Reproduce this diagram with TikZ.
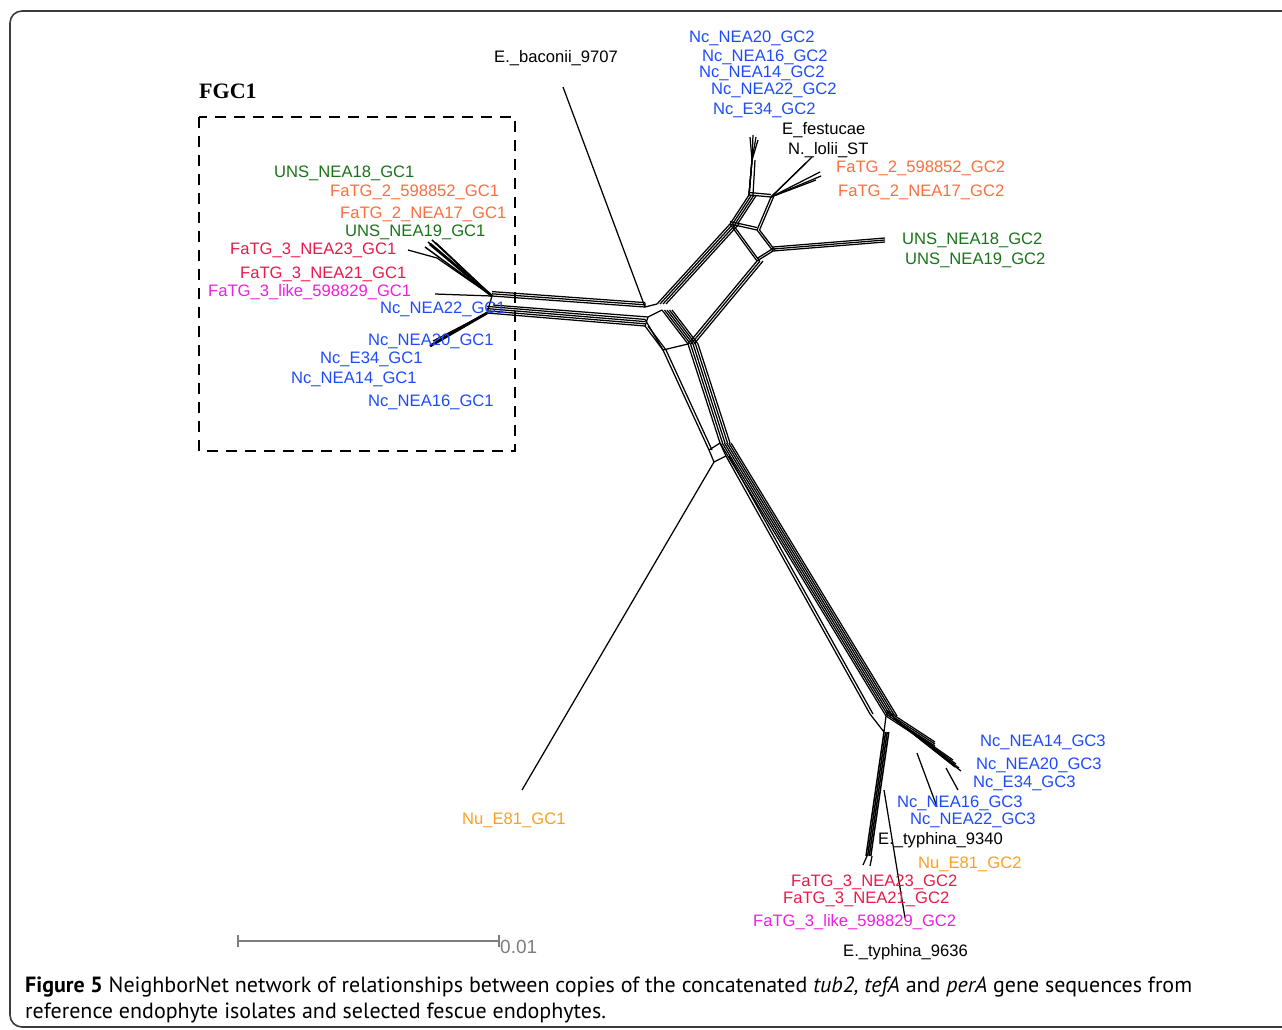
\documentclass[tikz,border=0pt]{standalone}
\usepackage{fontspec}
\setmainfont{Liberation Serif}
\newfontfamily\labfont{Liberation Sans}
\newfontfamily\capfont{PT Sans}
\usetikzlibrary{positioning}
\definecolor{ncblue}{RGB}{30,75,250}
\definecolor{unsgreen}{RGB}{25,115,25}
\definecolor{fatgtwo}{RGB}{250,110,65}
\definecolor{fatgthree}{RGB}{235,25,75}
\definecolor{fatglike}{RGB}{240,30,225}
\definecolor{nuorange}{RGB}{250,160,30}
\definecolor{scalegray}{RGB}{125,125,125}
\definecolor{framegray}{RGB}{60,60,60}
\tikzset{
  net/.style={line width=1.25pt},
  netthick/.style={line width=2.8pt},
  lab/.style={font=\labfont\fontsize{16.6}{18}\selectfont, inner sep=0pt, anchor=base west},
  nc/.style={lab, text=ncblue},
  uns/.style={lab, text=unsgreen},
  fatwo/.style={lab, text=fatgtwo},
  fathree/.style={lab, text=fatgthree},
  falike/.style={lab, text=fatglike},
  nu/.style={lab, text=nuorange},
  ref/.style={lab, text=black},
  boxdash/.style={line width=2.4pt, dash pattern=on 11pt off 8pt},
}
\begin{document}
\begin{tikzpicture}[x=1pt,y=-1pt]
\useasboundingbox (0,0) rectangle (1282,1029);
% outer frame
\draw[framegray, line width=1.6pt, rounded corners=12pt] (10,11) rectangle (1320,1027);

% FGC1 group
\node[font=\bfseries\fontsize{22}{24}\selectfont, inner sep=0pt, anchor=base west] (fgc) at (199,98) {FGC1};
\draw[boxdash] (199,117) rectangle (515,451);

% junction points of the network
\coordinate (L1) at (492,296);
\coordinate (L2) at (493,305);
\coordinate (L3) at (487,313);
\coordinate (H1) at (645,307);
\coordinate (H2) at (648,317);
\coordinate (H3) at (645,326);
\coordinate (H4) at (657,304);
\coordinate (H5) at (662,310);
\coordinate (H6) at (688,344);
\coordinate (H7) at (663,350);
\coordinate (Q1) at (730,224);
\coordinate (Q2) at (757,230);
\coordinate (Q3) at (773,251);
\coordinate (Q4) at (757,261);
\coordinate (S1) at (749,195);
\coordinate (S2) at (771,197);
\coordinate (D1) at (720,443);
\coordinate (D2) at (709,450);
\coordinate (D3) at (714,462);
\coordinate (D4) at (726,456);
\coordinate (G1) at (886,716);
\coordinate (G2) at (893,718);
\coordinate (G3) at (884,732);

% tips
\coordinate (baconii) at (563,87);
\coordinate (nuone) at (522,790);
\coordinate (typh) at (905,918);

% left cluster (GC1)
\foreach \a/\b in {425/247, 428/242, 432/240, 436/243}
  \draw[net, line width=1.5pt] (\a,\b) -- (L1);
\draw[netthick] (430,244) -- (L1);
\draw[net] (408,250) -- (437,258) -- (L1);
\draw[net] (435,294) -- (L1);
\draw[netthick] (430,346) -- (L3);
\draw[net] (433,341) -- (L3);
\draw[net] (L1) -- (L3);

% left bundles to the hub
\foreach \d in {0,2.2,4.4}
  \draw[net] ([yshift=\d pt]L1) -- ([yshift=\d pt]H1);
\draw[net] (L2) -- (H2);
\foreach \d in {0,2.2,4.4,6.6}
  \draw[net] ([yshift=\d pt]L3) -- ([yshift=\d pt]H3);
\draw[net] (baconii) -- (H1);

% hub
\draw[net] (H1) -- (H4) (H2) -- (H5) ([yshift=6.6pt]H3) -- (H7) -- (H6);
\draw[net] (H1) -- ([yshift=4.4pt]H1) (H3) -- (H2);

% towards the GC2 group
\foreach \d in {0,3,6,9}
  \draw[net] ([xshift=\d pt]H4) -- ([xshift=\d pt]Q1);
\foreach \d in {0,3,6}
  \draw[net] ([xshift=\d pt]H6) -- ([xshift=\d pt]Q4);
\foreach \d in {0,2.5}
  \draw[net] ([yshift=\d pt]Q1) -- ([yshift=\d pt]Q2)
             ([xshift=\d pt]Q2) -- ([xshift=\d pt]Q3)
             ([yshift=\d pt]Q4) -- ([yshift=\d pt]Q3)
             ([xshift=\d pt]Q1) -- ([xshift=\d pt]Q4);
\foreach \d in {0,2,4}
  \draw[net] ([yshift=\d pt]Q3) -- ([yshift=\d pt]885,242);
\foreach \d in {0,2.5,5,7.5}
  \draw[net] ([xshift=\d pt]Q1) -- ([xshift=\d pt]S1);
\foreach \d in {0,2.5}
  \draw[net] ([yshift=\d pt]S1) -- ([yshift=\d pt]S2)
             ([xshift=\d pt]S2) -- ([xshift=\d pt]Q2);
\foreach \a/\b in {750/137, 753/135, 756/137, 758/140}
  \draw[net] (S1) -- (752,160) -- (\a,\b);
\draw[net] ([xshift=4pt]S1) -- (755,160);
\foreach \a/\b in {812/157, 806/163, 820/172, 821/176, 816/180}
  \draw[net] (S2) -- (\a,\b);

% towards the GC3 group
\foreach \d in {0,2.5,5,7.5,10}
  \draw[net] ([xshift=\d pt]H5) -- ([xshift=\d pt]H6);
\foreach \d in {0,3}
  \draw[net] ([xshift=\d pt]H3) -- ([xshift=\d pt]H7) -- ([xshift=\d pt]D2);
\foreach \d in {0,2.5,5,7.5,10}
  \draw[net] ([xshift=\d pt]H6) -- ([xshift=\d pt]D1);
\draw[net] (D1) -- (D2) -- (D3) -- (D4) -- (D1);
\draw[net] (D3) -- (nuone);
\foreach \d in {0,2.2,4.4,6.6,8.8,11}
  \draw[net] ([xshift=\d pt]D1) -- ([xshift=\d pt]G1);
\foreach \d in {0,3}
  \draw[net] ([xshift=\d pt]D4) -- ([xshift=\d pt]870,714);
\draw[net] (870,714) -- (G3) (G1) -- (G3);

% GC3 end
\foreach \a/\b in {953/760, 956/764, 959/768, 961/771, 955/767}
  \draw[net] (G2) -- (\a,\b);
\foreach \d in {0,2,4,6}
  \draw[net] ([yshift=\d pt]G1) -- ([yshift=\d pt]935,748);
\draw[net] (917,753) -- (937,807);
\draw[net] (946,768) -- (958,790);
\foreach \d in {0,1.6,3.2,4.8}
  \draw[net, line width=1.5pt] ([xshift=\d pt]G3) -- ([xshift=\d pt]866,856);
\draw[net] (867,856) -- (863,865) (872,856) -- (870,866);
\draw[net] (884,790) -- (typh);

% labels, GC2
\node[nc] (ncNEAtwentyB) at (689,42) {Nc\_NEA20\_GC2};
\node[nc] (ncNEAsixteenB) at (702,61) {Nc\_NEA16\_GC2};
\node[nc] (ncNEAfourteenB) at (699,77) {Nc\_NEA14\_GC2};
\node[nc] (ncNEAtwentytwoB) at (711,94) {Nc\_NEA22\_GC2};
\node[nc] (ncEB) at (713,114) {Nc\_E34\_GC2};
\node[ref] (festucae) at (782,134) {E\_festucae};
\node[ref] (lolii) at (788,154) {N.\_lolii\_ST};
\node[fatwo] (faBfive) at (836,172) {FaTG\_2\_598852\_GC2};
\node[fatwo] (faBseventeen) at (838,196) {FaTG\_2\_NEA17\_GC2};
\node[uns] (unsEighteenB) at (902,244) {UNS\_NEA18\_GC2};
\node[uns] (unsNineteenB) at (905,264) {UNS\_NEA19\_GC2};
\node[ref] (baconiilab) at (494,62) {E.\_baconii\_9707};

% labels, GC1
\node[uns] (unsEighteenA) at (274,177) {UNS\_NEA18\_GC1};
\node[fatwo] (faAfive) at (330,196) {FaTG\_2\_598852\_GC1};
\node[fatwo] (faAseventeen) at (340,218) {FaTG\_2\_NEA17\_GC1};
\node[uns] (unsNineteenA) at (345,236) {UNS\_NEA19\_GC1};
\node[fathree] (faAtwentythree) at (230,254) {FaTG\_3\_NEA23\_GC1};
\node[fathree] (faAtwentyone) at (240,278) {FaTG\_3\_NEA21\_GC1};
\node[falike] (likeA) at (208,296) {FaTG\_3\_like\_598829\_GC1};
\node[nc] (ncNEAtwentytwoA) at (380,313) {Nc\_NEA22\_GC1};
\node[nc] (ncNEAtwentyA) at (368,345) {Nc\_NEA20\_GC1};
\node[nc] (ncEA) at (320,363) {Nc\_E34\_GC1};
\node[nc] (ncNEAfourteenA) at (291,383) {Nc\_NEA14\_GC1};
\node[nc] (ncNEAsixteenA) at (368,406) {Nc\_NEA16\_GC1};

% labels, GC3 and the rest
\node[nu] (nuA) at (462,824) {Nu\_E81\_GC1};
\node[nc] (ncNEAfourteenC) at (980,746) {Nc\_NEA14\_GC3};
\node[nc] (ncNEAtwentyC) at (976,769) {Nc\_NEA20\_GC3};
\node[nc] (ncEC) at (973,787) {Nc\_E34\_GC3};
\node[nc] (ncNEAsixteenC) at (897,807) {Nc\_NEA16\_GC3};
\node[nc] (ncNEAtwentytwoC) at (910,824) {Nc\_NEA22\_GC3};
\node[ref] (typhA) at (878,844) {E.\_typhina\_9340};
\node[nu] (nuB) at (918,868) {Nu\_E81\_GC2};
\node[fathree] (faCtwentythree) at (791,886) {FaTG\_3\_NEA23\_GC2};
\node[fathree] (faCtwentyone) at (783,903) {FaTG\_3\_NEA21\_GC2};
\node[falike] (likeB) at (753,926) {FaTG\_3\_like\_598829\_GC2};
\node[ref] (typhB) at (843,956) {E.\_typhina\_9636};

% scale bar
\coordinate (sbl) at (238,941);
\coordinate (sbr) at (499,941);
\draw[scalegray, line width=1.6pt] (sbl) -- (sbr);
\draw[scalegray, line width=1.6pt] ([yshift=-6pt]sbl) -- ([yshift=6pt]sbl)
  ([yshift=-6pt]sbr) -- ([yshift=6pt]sbr);
\node[right=1pt of sbr, yshift=-6pt, inner sep=0pt, text=scalegray,
  font=\labfont\fontsize{19}{20}\selectfont] (scalelab) {0.01};

% caption
\node[inner sep=0pt, anchor=base west, font=\capfont\fontsize{22}{24}\selectfont] (capone) at (25,992)
  {\textbf{Figure 5} NeighborNet network of relationships between copies of the concatenated \textit{tub2, tefA} and \textit{perA} gene sequences from};
\node[inner sep=0pt, anchor=base west, font=\capfont\fontsize{22}{24}\selectfont] (captwo) at (25,1018)
  {reference endophyte isolates and selected fescue endophytes.};
\end{tikzpicture}
\end{document}
